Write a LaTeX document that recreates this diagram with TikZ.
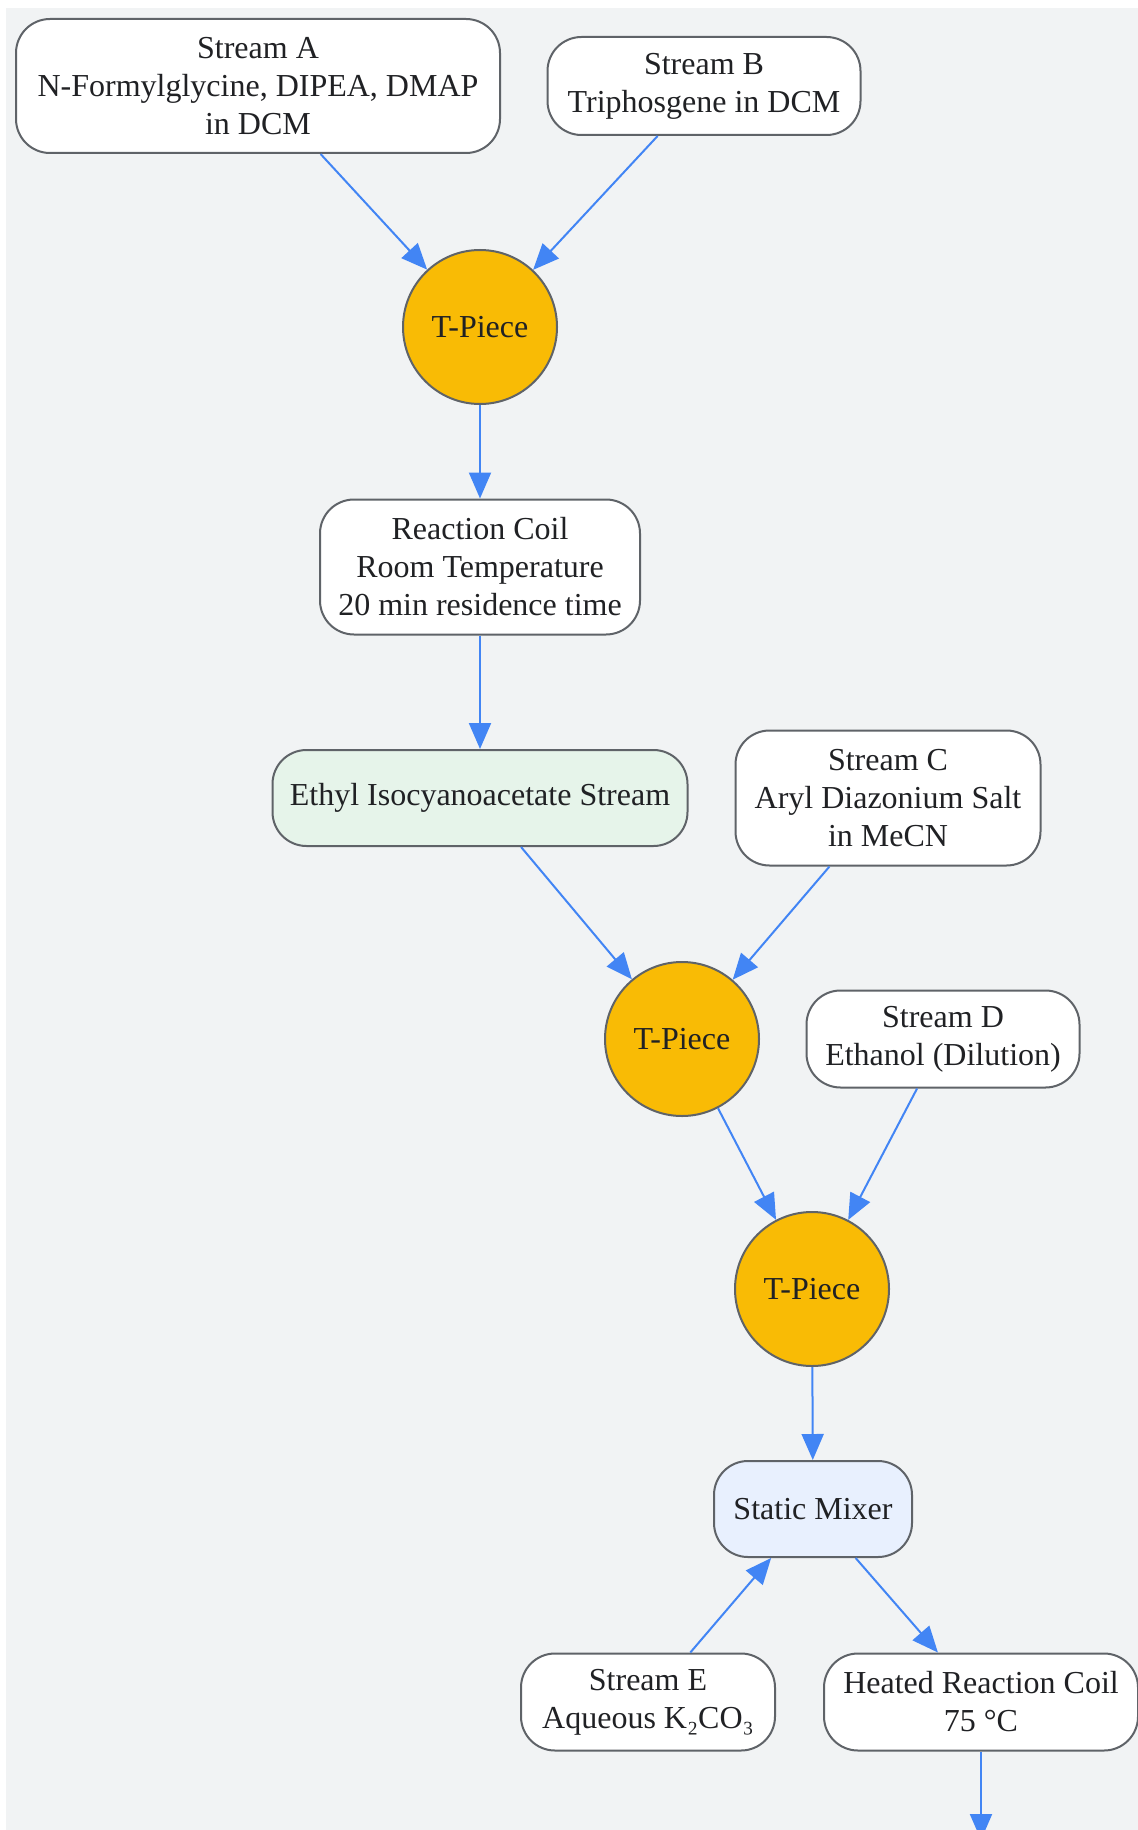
\documentclass[tikz,border=0pt]{standalone}
\usepackage{fontspec}
\setmainfont{Liberation Serif}
\usepackage{tikz}
\usepackage{xcolor}
\usetikzlibrary{arrows.meta}
\definecolor{page-bg}{HTML}{F1F3F4}
\definecolor{edge-grey}{HTML}{5F6368}
\definecolor{flow-blue}{HTML}{4285F4}
\definecolor{tee-amber}{HTML}{F9BB05}
\definecolor{mint}{HTML}{E6F4EA}
\definecolor{ice}{HTML}{E8F0FE}
\definecolor{ink}{HTML}{202124}
\tikzset{
    stream-box/.style = {draw=edge-grey, fill=white, line width=1pt, rectangle, rounded corners=17pt, align=center, inner sep=0pt, text=ink},
    t-piece/.style = {draw=edge-grey, fill=tee-amber, line width=1pt, circle, minimum size=77pt, inner sep=0pt, text=ink},
    flow-arrow/.style = {draw=flow-blue, line width=1pt, -{Triangle[length=13pt, width=11pt]}},
}

\begin{document}
\begin{tikzpicture}[x=0.5pt, y=-0.5pt, font=\fontsize{16pt}{19pt}\selectfont]
\useasboundingbox (0,0) rectangle (1138,1830);
\fill[page-bg] (6,8) rectangle (1138,1830);

\node[stream-box, minimum width=242pt, minimum height=67pt] (streamA) at (258,86) {Stream A\\N-Formylglycine, DIPEA, DMAP\\in DCM};
\node[stream-box, minimum width=156.5pt, minimum height=49pt] (streamB) at (704,86) {Stream B\\Triphosgene in DCM};
\node[t-piece] (tee1) at (480,327) {T-Piece};
\node[stream-box, minimum width=160pt, minimum height=67.5pt] (coil) at (480,567) {Reaction Coil\\Room Temperature\\20 min residence time};
\node[stream-box, fill=mint, minimum width=207.5pt, minimum height=48pt] (isocyano) at (480,798) {Ethyl Isocyanoacetate Stream};
\node[stream-box, minimum width=152.5pt, minimum height=67.5pt] (streamC) at (888,798) {Stream C\\Aryl Diazonium Salt\\in MeCN};
\node[t-piece] (tee2) at (682,1039) {T-Piece};
\node[stream-box, minimum width=136.5pt, minimum height=48.5pt] (streamD) at (943,1039) {Stream D\\Ethanol (Dilution)};
\node[t-piece] (tee3) at (812,1289) {T-Piece};
\node[stream-box, fill=ice, minimum width=99pt, minimum height=48pt] (mixer) at (813,1509) {Static Mixer};
\node[stream-box, minimum width=127pt, minimum height=48.5pt] (streamE) at (648,1702) {Stream E\\Aqueous K₂CO₃};
\node[stream-box, minimum width=157pt, minimum height=48.5pt] (hotcoil) at (981,1702) {Heated Reaction Coil\\75 °C};
\coordinate (outlet) at (981,1840);

\draw[flow-arrow] (streamA) -- (tee1);
\draw[flow-arrow] (streamB) -- (tee1);
\draw[flow-arrow] (tee1) -- (coil);
\draw[flow-arrow] (coil) -- (isocyano);
\draw[flow-arrow] (isocyano) -- (tee2);
\draw[flow-arrow] (streamC) -- (tee2);
\draw[flow-arrow] (tee2) -- (tee3);
\draw[flow-arrow] (streamD) -- (tee3);
\draw[flow-arrow] (tee3) -- (mixer);
\draw[flow-arrow] (streamE) -- (mixer);
\draw[flow-arrow] (mixer) -- (hotcoil);
\draw[flow-arrow] (hotcoil) -- (outlet);
\end{tikzpicture}
\end{document}
